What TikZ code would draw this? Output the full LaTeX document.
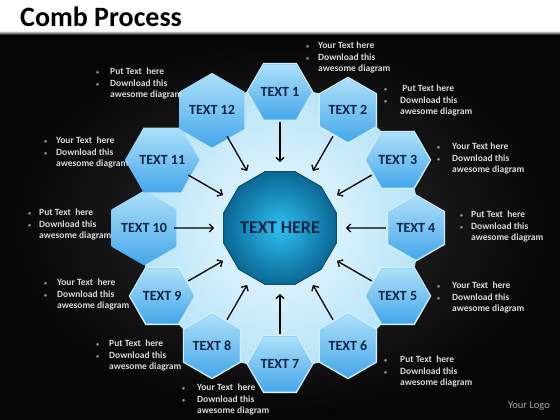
\documentclass[tikz,border=0pt]{standalone}
\usepackage{fontspec}
\setmainfont{Carlito}
\usetikzlibrary{shapes.geometric,arrows.meta}
\definecolor{bgin}{HTML}{2E2E2E}
\definecolor{bgout}{HTML}{050505}
\definecolor{diskin}{HTML}{F0FAFE}
\definecolor{diskout}{HTML}{B8E4F8}
\definecolor{hexedge}{HTML}{D3F0FC}
\definecolor{hexbevel}{HTML}{8DD1F5}
\definecolor{hextop}{HTML}{ADE0FA}
\definecolor{hexbot}{HTML}{44A7EA}
\definecolor{navy}{HTML}{0C2446}
\definecolor{hubin}{HTML}{2FC0F3}
\definecolor{hubout}{HTML}{0A6895}
\definecolor{hubedge}{HTML}{0A4E72}
\definecolor{note}{HTML}{D9D9D9}
\newcommand\bl[1]{\llap{{\fontsize{6}{6}\selectfont\color{gray!80}\textbullet}\hspace{#1}}}
\begin{document}
\begin{tikzpicture}[x=1pt,y=-1pt,
  hexout/.style={regular polygon, regular polygon sides=6, minimum size=66pt,
    inner sep=0pt, fill=hexbevel, draw=hexedge, line width=1pt},
  hexin/.style={regular polygon, regular polygon sides=6, minimum size=56pt,
    inner sep=0pt, top color=hextop, bottom color=hexbot, draw=none,
    text=navy, font=\bfseries\fontsize{14}{16}\selectfont},
  hub/.style={regular polygon, regular polygon sides=12, minimum size=116pt,
    inner sep=0pt, inner color=hubin, outer color=hubout, draw=hubedge, line width=1pt,
    text=navy, font=\bfseries\fontsize{18}{20}\selectfont},
  arr/.style={-{Straight Barb[length=4pt,width=8pt]}, line width=1.3pt, black,
    shorten >=9pt, shorten <=1pt},
  notebox/.style={anchor=north west, inner sep=0pt, align=left, text=note,
    font=\bfseries\fontsize{9.5}{11.5}\selectfont}]
\useasboundingbox (0,0) rectangle (560,420);
% background
\shade[inner color=bgin, outer color=bgout] (0,32) rectangle (560,420);
\fill[white] (0,0) rectangle (560,32);
\shade[top color=gray!60, bottom color=black] (0,32) rectangle (560,35);
\node[anchor=base west, inner sep=0pt, font=\bfseries\fontsize{28}{30}\selectfont, text=black] (title) at (20,27) {Comb Process};
% light disk
\shade[inner color=diskin, outer color=diskout] (280,228) circle[radius=140];
% hub
\node[hub] (c) at (280,228) {TEXT HERE};
% hexagons
\foreach \i [evaluate=\i as \a using {90-30*(\i-1)},
             evaluate=\i as \r using {30*mod(\i+1,2)}] in {1,...,12} {
  \node[hexout, shape border rotate=\r] (h\i) at ({280+136*cos(\a)},{228-136*sin(\a)}) {};
  \node[hexin, shape border rotate=\r] (t\i) at (h\i) {TEXT \i};
  \draw[arr] (h\i) -- (c);
}
% notes
\node[notebox] (n1) at (318,42) {\bl{9pt}Your Text here\\\bl{9pt}Download this\\awesome diagram};
\node[notebox] (n12) at (110,68) {\bl{11pt}Put Text~ here\\\bl{11pt}Download this\\awesome diagram};
\node[notebox] (n2) at (400,85) {\bl{13pt}~Put Text here\\\bl{13pt}Download this\\awesome diagram};
\node[notebox] (n3) at (452,143) {\bl{12pt}Your Text here\\\bl{12pt}Download this\\awesome diagram};
\node[notebox] (n11) at (56,137) {\bl{9pt}Your Text~ here\\\bl{9pt}Download this\\awesome diagram};
\node[notebox] (n10) at (39,209) {\bl{8pt}Put Text~ here\\\bl{8pt}Download this\\awesome diagram};
\node[notebox] (n4) at (471,211) {\bl{8pt}Put Text~ here\\\bl{8pt}Download this\\awesome diagram};
\node[notebox] (n9) at (57,279) {\bl{10pt}Your Text~ here\\\bl{10pt}Download this\\awesome diagram};
\node[notebox] (n5) at (452,282) {\bl{12pt}Your Text~ here\\\bl{12pt}Download this\\awesome diagram};
\node[notebox] (n8) at (109,340) {\bl{10pt}Put Text~ here\\\bl{10pt}Download this\\awesome diagram};
\node[notebox] (n6) at (400,356) {\bl{13pt}Put Text~ here\\\bl{13pt}Download this\\awesome diagram};
\node[notebox] (n7) at (197,384) {\bl{12pt}Your Text~ here\\\bl{12pt}Download this\\awesome diagram};
\node[text=gray!70, font=\fontsize{10.5}{12}\selectfont, inner sep=0pt] (logo) at (529,406) {Your Logo};
\end{tikzpicture}
\end{document}
